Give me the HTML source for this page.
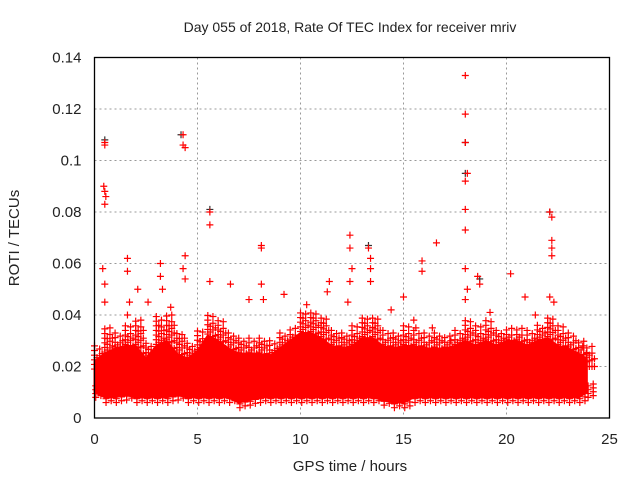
<!DOCTYPE html>
<html><head><meta charset="utf-8"><style>
body{margin:0;background:#fff}
svg{display:block}
text{font-family:"Liberation Sans",sans-serif;fill:#222}
</style></head><body>
<svg id="chart" width="640" height="480" viewBox="0 0 640 480">
<text x="350" y="32" font-size="14" text-anchor="middle">Day 055 of 2018, Rate Of TEC Index for receiver mriv</text>
<text transform="translate(19,238) rotate(-90)" font-size="15" text-anchor="middle">ROTI / TECUs</text>
<text x="350" y="471" font-size="15" text-anchor="middle">GPS time / hours</text>
<g id="grid"></g><g id="marks"></g><g id="axes"></g>
</svg>
<script>
const bandTimes=[0,0.5,1,1.5,2,2.5,3,3.5,4,4.5,5,5.5,6,6.5,7,7.5,8,8.5,9,9.5,10,10.5,11,11.5,12,12.5,13,13.5,14,14.5,15,15.5,16,16.5,17,17.5,18,18.5,19,19.5,20,20.5,21,21.5,22,22.5,23,23.5,23.9];
const bandTop=[0.022,0.025,0.027,0.028,0.028,0.023,0.028,0.03,0.025,0.023,0.026,0.032,0.03,0.027,0.025,0.025,0.025,0.024,0.027,0.03,0.033,0.033,0.031,0.028,0.027,0.028,0.031,0.031,0.028,0.027,0.028,0.028,0.027,0.027,0.027,0.028,0.03,0.028,0.03,0.028,0.03,0.03,0.028,0.03,0.031,0.028,0.027,0.025,0.023];
const sparseTop=[0.028,0.035,0.033,0.036,0.038,0.03,0.04,0.04,0.034,0.03,0.034,0.04,0.038,0.034,0.032,0.031,0.032,0.03,0.034,0.036,0.042,0.042,0.04,0.035,0.034,0.036,0.04,0.04,0.034,0.034,0.036,0.034,0.033,0.034,0.032,0.034,0.038,0.036,0.038,0.035,0.036,0.036,0.034,0.037,0.04,0.036,0.033,0.03,0.028];
const bandBot=[0.01,0.008,0.008,0.009,0.008,0.008,0.008,0.008,0.009,0.008,0.008,0.008,0.008,0.008,0.006,0.007,0.008,0.008,0.008,0.008,0.008,0.008,0.008,0.008,0.008,0.008,0.008,0.008,0.007,0.006,0.006,0.008,0.008,0.008,0.008,0.008,0.008,0.008,0.008,0.008,0.008,0.008,0.008,0.008,0.008,0.008,0.008,0.008,0.01];
const spikeT=[0.5,0.5,0.45,0.5,0.55,0.5,0.4,0.5,0.5,1.6,1.6,1.7,1.6,2.1,2.6,3.2,3.2,3.3,3.7,4.3,4.3,4.4,4.4,4.3,4.4,5.6,5.6,5.6,6.6,7.5,8.1,8.1,8.1,8.2,9.2,10.3,11.4,11.3,12.3,12.4,12.4,12.5,12.4,13.3,13.4,13.4,13.4,14.4,15,15.5,15.6,15.9,15.9,16.4,16.6,17.3,18,18,18,18.1,18,18,18,18,18.1,18,18.6,18.7,19.2,20.2,20.9,21.4,22.1,22.2,22.2,22.2,22.2,22.1,22.3,23.7];
const spikeV=[0.107,0.106,0.09,0.088,0.086,0.083,0.058,0.052,0.045,0.062,0.057,0.045,0.04,0.05,0.045,0.06,0.055,0.05,0.043,0.11,0.106,0.105,0.063,0.058,0.054,0.08,0.075,0.053,0.052,0.046,0.067,0.066,0.052,0.046,0.048,0.044,0.053,0.049,0.045,0.071,0.066,0.058,0.053,0.066,0.062,0.058,0.053,0.042,0.047,0.038,0.035,0.061,0.057,0.035,0.068,0.03,0.133,0.118,0.107,0.095,0.092,0.081,0.073,0.058,0.05,0.046,0.055,0.052,0.041,0.056,0.047,0.04,0.08,0.078,0.069,0.066,0.063,0.047,0.045,0.028];
const blackT=[0.5,4.2,5.6,18,18,13.3,22.1,18.7];
const blackV=[0.108,0.11,0.081,0.107,0.095,0.067,0.08,0.054];
const xTicks=[0,5,10,15,20,25];
const yTicks=[0,0.02,0.04,0.06,0.08,0.1,0.12,0.14];
const yTickLabels=["0","0.02","0.04","0.06","0.08","0.1","0.12","0.14"];

const L=94.5,R=609.5,T=57.5,B=418;
const X=t=>L+(t/25)*(R-L);
const Y=v=>B-(v/0.14)*(B-T);
const NS="http://www.w3.org/2000/svg";
function mk(tag,attrs,parent){const e=document.createElementNS(NS,tag);for(const k in attrs)e.setAttribute(k,attrs[k]);parent.appendChild(e);return e;}
const grid=document.getElementById('grid'),marks=document.getElementById('marks'),axes=document.getElementById('axes');
xTicks.forEach((t,i)=>{
  if(i>0&&i<xTicks.length-1){const g=mk('line',{x1:X(t),x2:X(t),y1:T,y2:B,stroke:'#999','stroke-dasharray':'2,3'},grid);
  
  }
  const tx=mk('text',{x:X(t),y:B+26,'font-size':15,'text-anchor':'middle'},axes);tx.textContent=t;
  
  
});
yTicks.forEach((v,i)=>{
  if(i>0&&i<yTicks.length-1){const g=mk('line',{x1:L,x2:R,y1:Y(v),y2:Y(v),stroke:'#999','stroke-dasharray':'2,3'},grid);
  
  }
  const tx=mk('text',{x:L-13,y:Y(v)+5,'font-size':15,'text-anchor':'end'},axes);tx.textContent=yTickLabels[i];
  
  
});
function cross(t,v,col){
  const x=X(t),y=Y(v);
  const p=mk('path',{d:`M${x-3.5},${y}H${x+3.5}M${x},${y-3.5}V${y+3.5}`,stroke:col,'stroke-width':1.2,fill:'none'},marks);
  
  
}
// sparse crosses above band (ragged texture)
bandTimes.forEach((t,i)=>{
  const k=[0,0.12,0.25,0.37];
  k.forEach((o,j)=>{
    for(let v=bandTop[i]-0.003;v<=sparseTop[i]-(j%2)*0.003;v+=0.0018+j*0.0004){cross(t+o,v,'#f00');}
  });
  for(let v=bandBot[i]-0.002;v<bandBot[i]+0.003;v+=0.0015){cross(t+0.06,v,'#f00');cross(t+0.31,v+0.0007,'#f00');}
});
// dense band
let d='M'+bandTimes.map((t,i)=>X(t)+','+Y(bandTop[i])).join('L');
for(let i=bandTimes.length-1;i>=0;i--)d+='L'+X(bandTimes[i])+','+Y(bandBot[i]);
d+='Z';
const band=mk('path',{d:d,fill:'#f00',stroke:'#f00','stroke-width':2,'stroke-linejoin':'round'},marks);


blackT.forEach((t,i)=>cross(t,blackV[i],'#333'));
spikeT.forEach((t,i)=>cross(t,spikeV[i],'#f00'));
// axes frame
const fr=mk('rect',{x:L,y:T,width:R-L,height:B-T,fill:'none',stroke:'#000','stroke-width':1.3},axes);


</script>
</body></html>
